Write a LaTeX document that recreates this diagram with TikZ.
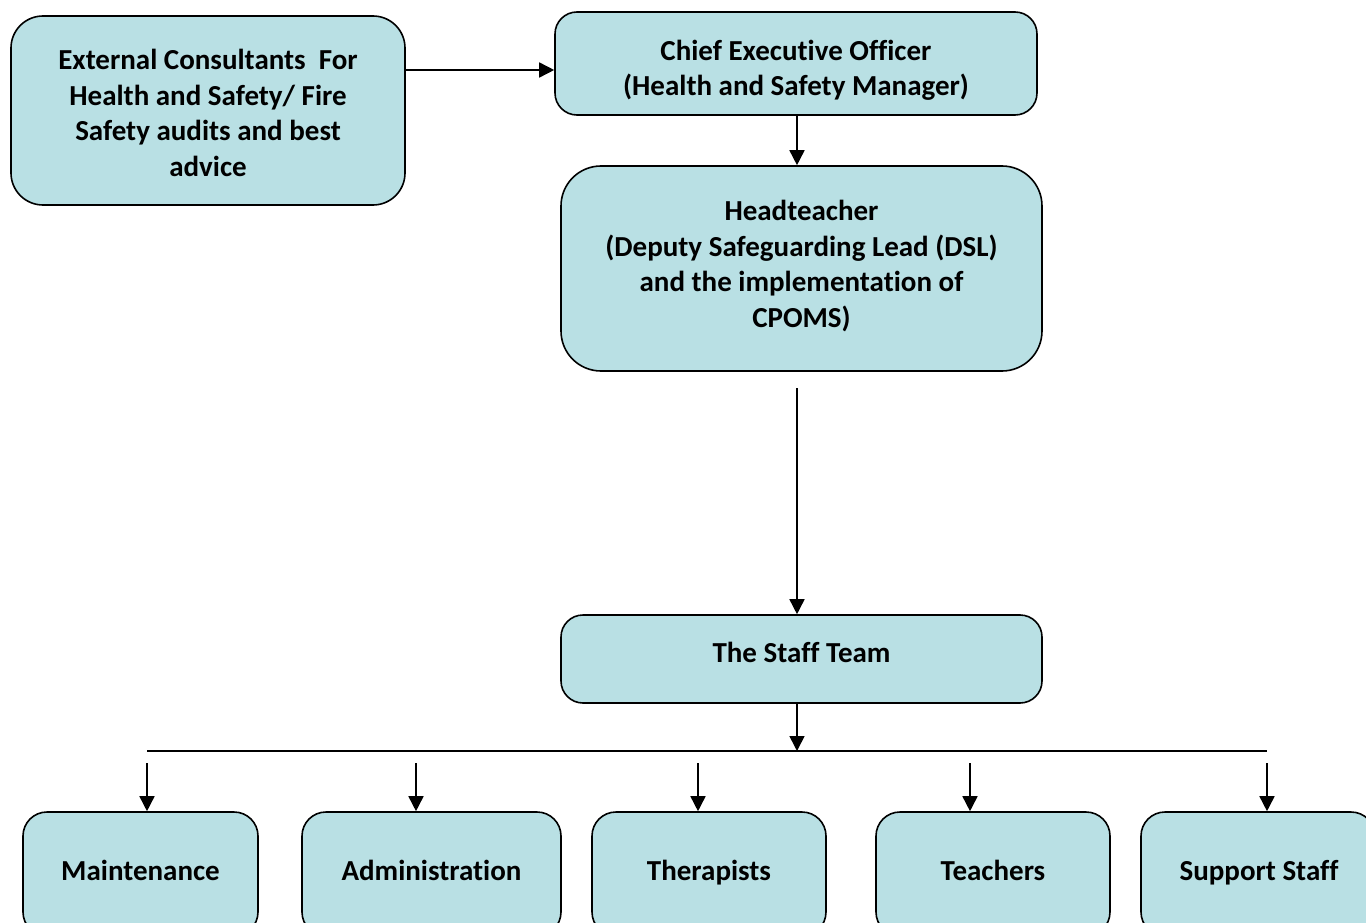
\documentclass[tikz,border=0pt]{standalone}
\usepackage{fontspec}
\setmainfont{Carlito}[Ligatures=NoCommon]
\usetikzlibrary{arrows.meta}
\definecolor{boxfill}{RGB}{185,224,228}
\tikzset{
  orgbox/.style={draw=black, line width=1.6pt, fill=boxfill, rounded corners=#1, inner sep=0pt},
  orgbox/.default=22pt,
  orgtext/.style={inner sep=0pt, anchor=base, align=center, font=\bfseries\fontsize{29}{35.5}\selectfont},
  conn/.style={line width=1.6pt, -{Triangle[length=15pt,width=15pt]}},
  plain/.style={line width=1.6pt}
}
\begin{document}
\begin{tikzpicture}[x=1pt,y=-1pt]
\path[use as bounding box] (0,0) rectangle (1366,923);
\clip (0,0) rectangle (1366,923);
\fill[white] (0,0) rectangle (1366,923);

\node[orgbox=32pt, minimum width=394pt, minimum height=189pt] (ext) at (208,110.5) {};
\node[orgtext] (exttext) at (208,176)
  {External Consultants\ \ For\\Health and Safety/ Fire\\Safety audits and best\\advice};
\node[orgbox, minimum width=482pt, minimum height=103pt] (ceo) at (796,63.5) {};
\node[orgtext] (ceotext) at (796,96)
  {Chief Executive Officer\\(Health and Safety Manager)};
\node[orgbox=40pt, minimum width=481pt, minimum height=205pt] (head) at (801.5,268.5) {};
\node[orgtext] (headtext) at (801.5,327)
  {Headteacher\\(Deputy Safeguarding Lead (DSL)\\and the implementation of\\CPOMS)};
\node[orgbox, minimum width=481pt, minimum height=88pt] (staff) at (801.5,659) {};
\node[orgtext] (stafftext) at (801.5,662) {The Staff Team};

\node[orgbox=24pt, minimum width=235pt, minimum height=124pt] (maint) at (140.5,874) {};
\node[orgbox=24pt, minimum width=259pt, minimum height=124pt] (admin) at (431.5,874) {};
\node[orgbox=24pt, minimum width=234pt, minimum height=124pt] (ther) at (709,874) {};
\node[orgbox=24pt, minimum width=234pt, minimum height=124pt] (teach) at (993,874) {};
\node[orgbox=24pt, minimum width=234pt, minimum height=124pt] (supp) at (1258,874) {};
\node[orgtext] (mainttext) at (140.5,880) {Maintenance};
\node[orgtext] (admintext) at (431.5,880) {Administration};
\node[orgtext] (thertext) at (709,880) {Therapists};
\node[orgtext] (teachtext) at (993,880) {Teachers};
\node[orgtext] (supptext) at (1259,880) {Support Staff};

% connectors
\draw[conn] (ext.east |- 0,70) -- (ceo.west |- 0,70);
\coordinate (trunktop) at (797,388);
\draw[conn] (ceo.south -| trunktop) -- (head.north -| trunktop);
\draw[conn] (trunktop) -- (staff.north -| trunktop);
\coordinate (busL) at (147,751);
\coordinate (busR) at (1267,751);
\draw[plain] (busL) -- (busR);
\draw[conn] (staff.south -| trunktop) -- (trunktop |- busL);

\coordinate (d1) at (147,763);
\coordinate (d2) at (416,763);
\coordinate (d3) at (698,763);
\coordinate (d4) at (970,763);
\coordinate (d5) at (1267,763);
\draw[conn] (d1) -- (d1 |- maint.north);
\draw[conn] (d2) -- (d2 |- admin.north);
\draw[conn] (d3) -- (d3 |- ther.north);
\draw[conn] (d4) -- (d4 |- teach.north);
\draw[conn] (d5) -- (d5 |- supp.north);
\end{tikzpicture}
\end{document}
